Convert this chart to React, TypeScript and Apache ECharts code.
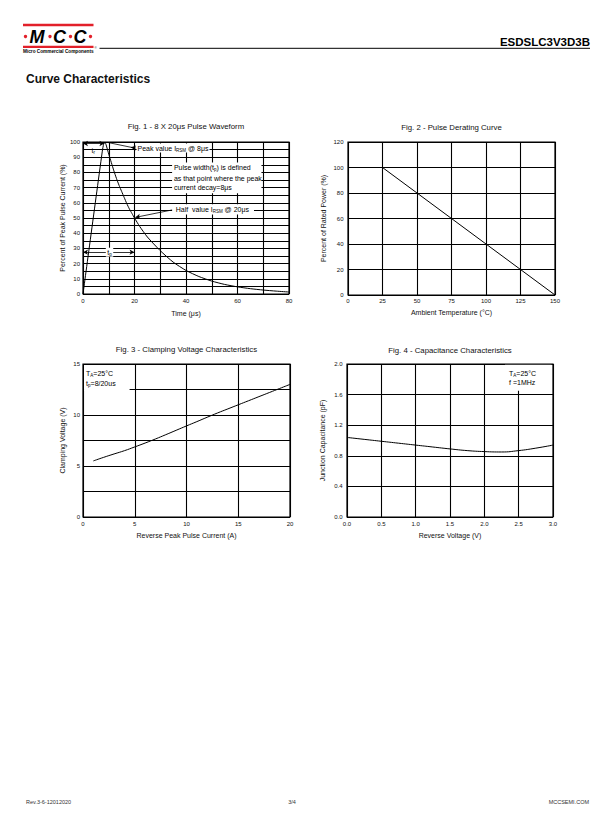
import React, { useEffect, useRef } from 'react';
import * as echarts from 'echarts';

const FONT = '"Liberation Sans", Arial, Helvetica, sans-serif';

// ---------- Fig. 1 - 8 X 20us Pulse Waveform ----------
const fig1Time = [0, 7.5, 8, 8.5, 9, 10, 11, 12, 13, 14, 15, 16, 17, 18, 19, 20, 22, 25, 30, 35, 40, 45, 50, 55, 60, 65, 70, 75, 80];
const fig1Current = [0, 94, 98.5, 100, 98, 92, 86.5, 81, 76, 71.5, 67.5, 63.5, 59.5, 56, 53, 50, 44.5, 37.5, 28.5, 21, 15.5, 11.5, 8.5, 6.3, 4.7, 3.5, 2.6, 1.9, 1.3];
const fig1XTicks = [0, 20, 40, 60, 80];
const fig1YTicks = [0, 10, 20, 30, 40, 50, 60, 70, 80, 90, 100];

// ---------- Fig. 2 - Pulse Derating Curve ----------
const fig2Temp = [25, 150];
const fig2Power = [100, 0];
const fig2XTicks = [0, 25, 50, 75, 100, 125, 150];
const fig2YTicks = [0, 20, 40, 60, 80, 100, 120];

// ---------- Fig. 3 - Clamping Voltage ----------
const fig3Current = [1, 2, 3, 4, 5, 6, 7, 8, 9, 10, 11, 12, 13, 14, 15, 16, 17, 18, 19, 20];
const fig3Voltage = [5.5, 5.85, 6.18, 6.5, 6.87, 7.25, 7.65, 8.07, 8.5, 8.93, 9.35, 9.78, 10.2, 10.6, 11.0, 11.4, 11.8, 12.2, 12.6, 13.0];
const fig3XTicks = [0, 5, 10, 15, 20];
const fig3YTicks = [0, 5, 10, 15];

// ---------- Fig. 4 - Capacitance ----------
const fig4Voltage = [0, 0.25, 0.5, 0.75, 1.0, 1.25, 1.5, 1.75, 2.0, 2.25, 2.5, 2.75, 3.0];
const fig4Cap = [1.04, 1.015, 0.99, 0.965, 0.94, 0.915, 0.89, 0.868, 0.855, 0.85, 0.868, 0.9, 0.94];
const fig4XTicks = [0, 0.5, 1.0, 1.5, 2.0, 2.5, 3.0];
const fig4YTicks = [0, 0.4, 0.8, 1.2, 1.6, 2.0];

const GRIDS = [
  { left: 83, top: 142, width: 206, height: 152 },
  { left: 348, top: 142, width: 207, height: 153 },
  { left: 83, top: 364, width: 207, height: 153 },
  { left: 347, top: 364, width: 206, height: 153 },
];

const TITLES = [
  'Fig. 1 - 8 X 20\u03bcs Pulse Waveform',
  'Fig. 2 - Pulse Derating Curve',
  'Fig. 3 - Clamping Voltage Characteristics',
  'Fig. 4 - Capacitance Characteristics',
];
const TITLE_Y = [126.5, 127, 349, 350];

const zip = (a: number[], b: number[]) => a.map((v, i) => [v, b[i]]);

function mkAxis(
  gridIndex: number, min: number, max: number, interval: number,
  ticks: number[], decimals: number, name: string, nameGap: number, margin: number
) {
  return {
    type: 'value', gridIndex, min, max, interval,
    name, nameLocation: 'middle', nameGap,
    nameTextStyle: { fontFamily: FONT, fontSize: 7, color: '#111' },
    axisLine: { show: false }, axisTick: { show: false },
    axisLabel: {
      fontFamily: FONT, fontSize: 6, color: '#111', margin,
      showMinLabel: true, showMaxLabel: true,
      formatter: (v: number) => (ticks.some(t => Math.abs(t - v) < 1e-6) ? v.toFixed(decimals) : ''),
    },
    splitLine: { show: true, lineStyle: { color: '#000', width: 1.1 } },
  };
}

const arrowPt = (x: number, y: number, sym: string) => ({ coord: [x, y], symbol: sym, symbolSize: [4, 5] });

const ML = (data: any[]) => ({
  silent: true, animation: false,
  label: { show: false },
  lineStyle: { color: '#000', width: 0.8, type: 'solid' },
  emphasis: { disabled: true },
  data,
});

const MA = (data: any[]) => ({
  silent: true,
  itemStyle: { color: '#fff', opacity: 1 },
  label: { show: false },
  emphasis: { disabled: true },
  data,
});

const rich = {
  a: { fontFamily: FONT, fontSize: 7, fill: '#000', lineHeight: 9 },
  s: { fontFamily: FONT, fontSize: 4.5, fill: '#000', lineHeight: 4.5, verticalAlign: 'bottom' },
};

export default function App() {
  const ref = useRef<HTMLDivElement>(null);
  useEffect(() => {
    if (!ref.current) return;
    const chart = echarts.init(ref.current, undefined, { renderer: 'svg' });
    const lineStyle = { color: '#000', width: 1 };
    const option: any = {
      animation: false,
      backgroundColor: '#fff',
      grid: GRIDS.map(g => ({ ...g, show: true, borderColor: '#000', borderWidth: 1.2, backgroundColor: 'transparent' })),
      xAxis: [
        mkAxis(0, 0, 80, 10, fig1XTicks, 0, 'Time (\u03bcs)', 15.5, 4),
        mkAxis(1, 0, 150, 25, fig2XTicks, 0, 'Ambient Temperature (\u00b0C)', 13.5, 3),
        mkAxis(2, 0, 20, 5, fig3XTicks, 0, 'Reverse Peak Pulse Current (A)', 15, 4),
        mkAxis(3, 0, 3, 0.5, fig4XTicks, 1, 'Reverse Voltage (V)', 14.5, 4),
      ],
      yAxis: [
        mkAxis(0, 0, 100, 5, fig1YTicks, 0, 'Percent of Peak Pulse Current (%)', 17, 3),
        mkAxis(1, 0, 120, 20, fig2YTicks, 0, 'Percent of Rated Power (%)', 21.5, 4.5),
        mkAxis(2, 0, 15, 2.5, fig3YTicks, 0, 'Clamping Voltage (V)', 17, 3),
        mkAxis(3, 0, 2, 0.4, fig4YTicks, 1, 'Junction Capacitance (pF)', 21, 4.5),
      ],
      series: [
        {
          type: 'line', xAxisIndex: 0, yAxisIndex: 0, data: zip(fig1Time, fig1Current),
          showSymbol: false, smooth: 0.2, lineStyle, silent: true,
          markArea: MA([
            [{ coord: [34.6, 86.5] }, { coord: [69.3, 66.3] }],
            [{ coord: [34.6, 59] }, { coord: [66.4, 52.3] }],
          ]),
          markLine: ML([
            [arrowPt(0, 99, 'arrow'), arrowPt(8.3, 99, 'arrow')],
            [arrowPt(0, 27.5, 'arrow'), arrowPt(20, 27.5, 'arrow')],
            [arrowPt(9.6, 99.7, 'none'), arrowPt(19, 96.4, 'none')],
            [arrowPt(20.6, 96.0, 'none'), arrowPt(18.6, 96.5, 'arrow')],
            [arrowPt(34.6, 55.3, 'none'), arrowPt(20.3, 50.4, 'arrow')],
          ]),
        },
        {
          type: 'line', xAxisIndex: 1, yAxisIndex: 1, data: zip(fig2Temp, fig2Power),
          showSymbol: false, lineStyle, silent: true,
        },
        {
          type: 'line', xAxisIndex: 2, yAxisIndex: 2, data: zip(fig3Current, fig3Voltage),
          showSymbol: false, smooth: true, lineStyle, silent: true,
          markArea: MA([[{ coord: [0.1, 14.9] }, { coord: [4.5, 12.35] }]]),
        },
        {
          type: 'line', xAxisIndex: 3, yAxisIndex: 3, data: zip(fig4Voltage, fig4Cap),
          showSymbol: false, smooth: true, lineStyle, silent: true,
          markArea: MA([[{ coord: [2.3, 1.99] }, { coord: [2.98, 1.65] }]]),
        },
      ],
    };
    chart.setOption(option);

    const p = (i: number, x: number, y: number) =>
      chart.convertToPixel({ xAxisIndex: i, yAxisIndex: i } as any, [x, y]) as number[];

    const txt = (pos: number[], text: string, extra: any = {}) => ({
      type: 'text', x: pos[0], y: pos[1], silent: true, z: 100,
      style: { text, rich, fontFamily: FONT, fontSize: 7, fill: '#000', verticalAlign: 'middle', align: 'left', ...extra },
    });

    const graphics: any[] = [];
    // header
    graphics.push({ type: 'rect', shape: { x: 23, y: 23.8, width: 70.5, height: 2.4 }, style: { fill: '#e2202a' }, silent: true });
    graphics.push({ type: 'rect', shape: { x: 23, y: 45.8, width: 70.5, height: 2.2 }, style: { fill: '#e2202a' }, silent: true });
    [25.5, 50, 70.5, 90.5].forEach(cx =>
      graphics.push({ type: 'circle', shape: { cx, cy: 36.5, r: 1.7 }, style: { fill: '#e2202a' }, silent: true }));
    [['M', 29.5], ['C', 53], ['C', 73.5]].forEach(([ch, x]) =>
      graphics.push({
        type: 'text', x: x as number, y: 36.5, silent: true,
        style: { text: ch as string, fontFamily: FONT, fontSize: 18, fontWeight: 'bold', fontStyle: 'italic', fill: '#000', verticalAlign: 'middle' },
      }));
    graphics.push({
      type: 'text', x: 23, y: 51.2, silent: true,
      style: { text: 'Micro Commercial Components', fontFamily: FONT, fontSize: 4.7, fontWeight: 'bold', fill: '#000', verticalAlign: 'middle' },
    });
    graphics.push({
      type: 'text', x: 94.5, y: 47.2, silent: true,
      style: { text: '\u00ae', fontFamily: FONT, fontSize: 3, fill: '#000', verticalAlign: 'middle' },
    });
    graphics.push({ type: 'line', shape: { x1: 99.5, y1: 48.3, x2: 590, y2: 48.3 }, style: { stroke: '#000', lineWidth: 1 }, silent: true });
    graphics.push({
      type: 'text', x: 590, y: 41.5, silent: true,
      style: { text: 'ESDSLC3V3D3B', fontFamily: FONT, fontSize: 11.5, fontWeight: 'bold', fill: '#000', align: 'right', verticalAlign: 'middle' },
    });
    graphics.push({
      type: 'text', x: 26, y: 78.5, silent: true,
      style: { text: 'Curve Characteristics', fontFamily: FONT, fontSize: 12, fontWeight: 'bold', fill: '#111', verticalAlign: 'middle' },
    });
    // titles
    GRIDS.forEach((g, i) =>
      graphics.push({
        type: 'text', x: g.left + g.width / 2, y: TITLE_Y[i], silent: true,
        style: { text: TITLES[i], fontFamily: FONT, fontSize: 7.8, fill: '#111', align: 'center', verticalAlign: 'middle' },
      }));
    // footer
    const foot = { fontFamily: FONT, fontSize: 5.5, fill: '#333', verticalAlign: 'middle' };
    graphics.push({ type: 'text', x: 26, y: 802, silent: true, style: { ...foot, text: 'Rev.3-6-12012020' } });
    graphics.push({ type: 'text', x: 292, y: 802, silent: true, style: { ...foot, text: '3/4', align: 'center' } });
    graphics.push({ type: 'text', x: 589, y: 802, silent: true, style: { ...foot, text: 'MCCSEMI.COM', align: 'right' } });

    // Fig.1 annotations
    graphics.push(txt(p(0, 20.8, 96), '{a|Peak value I}{s|RSM}{a| @ 8\u03bcs}', { backgroundColor: '#fff', padding: [0, 1] }));
    graphics.push(txt(p(0, 4, 94.5), '{a|t}{s|r}', { align: 'center' }));
    graphics.push(txt(p(0, 10.3, 27.5), '{a|t}{s|p}', { align: 'center', backgroundColor: '#fff', padding: [0, 1.5] }));
    graphics.push(txt(p(0, 35.3, 82.9), '{a|Pulse width(t}{s|p}{a|) is defined}'));
    graphics.push(txt(p(0, 35.3, 76.2), '{a|as that point where the peak}'));
    graphics.push(txt(p(0, 35.3, 69.8), '{a|current decay=8\u03bcs}'));
    graphics.push(txt(p(0, 36, 55.6), '{a|Half  value I}{s|RSM}{a| @ 20\u03bcs}'));
    // Fig.3 annotations
    graphics.push(txt(p(2, 0.3, 14.1), '{a|T}{s|A}{a|=25\u00b0C}'));
    graphics.push(txt(p(2, 0.3, 13.05), '{a|t}{s|p}{a|=8/20us}'));
    // Fig.4 annotations
    graphics.push(txt(p(3, 2.36, 1.88), '{a|T}{s|A}{a|=25\u00b0C}'));
    graphics.push(txt(p(3, 2.36, 1.76), '{a|f =1MHz}'));

    chart.setOption({ graphic: graphics });
    return () => chart.dispose();
  }, []);
  return (
    <div
      ref={ref}
      style={{ position: 'absolute', left: 0, top: 0, width: 612, height: 825, background: '#fff' }}
    />
  );
}
